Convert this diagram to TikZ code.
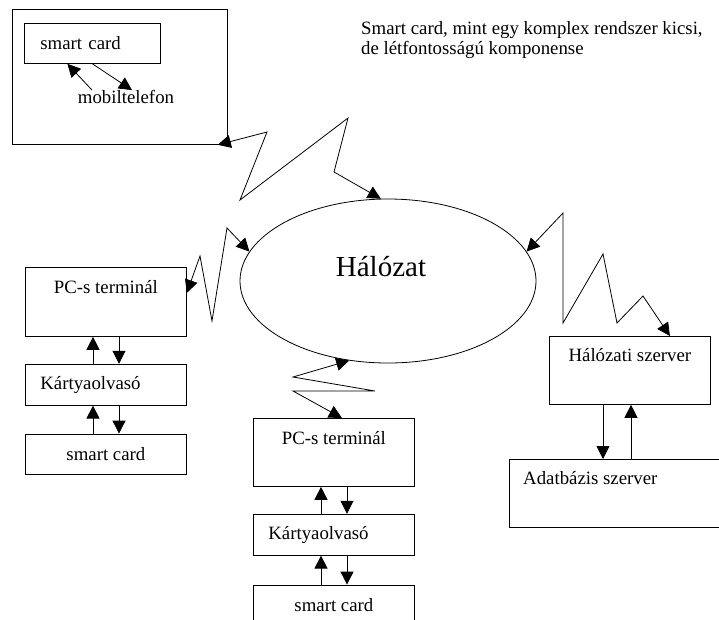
\documentclass[tikz,border=0pt]{standalone}
\usepackage{fontspec}
\setmainfont{Liberation Serif}
\usetikzlibrary{positioning,shapes.geometric,arrows.meta}

\newcommand\normtext{\fontsize{18.8}{20.5}\selectfont}
\newcommand\bigtext{\fontsize{29}{32}\selectfont}

\tikzset{
  box/.style={draw, line width=.8pt, minimum width=161pt, minimum height=41pt, inner sep=0pt, font=\normtext},
  bigbox/.style={box, minimum height=68pt, anchor=north west},
  txt/.style={inner sep=0pt, font=\normtext},
  link/.style={line width=.8pt, -{Triangle[length=13pt,width=13pt]}},
  wave/.style={line width=.8pt, {Triangle[length=13pt,width=13pt]}-{Triangle[length=13pt,width=13pt]}},
}

\begin{document}
\begin{tikzpicture}[x=1pt, y=-1pt]
		\clip (0,0) rectangle (719,619) ;
		% Phone
		\node[draw, line width=.8pt, minimum width=215pt, minimum height=135pt, anchor=north west] (phone) at (12,9) {} ;
		\node[box, minimum width=136pt, minimum height=40pt, text width=104pt, inner xsep=16pt, align=left, anchor=north west] (cardT) at (24,23) {smart card} ;
		\node[txt] (tel) at (126,97) {mobiltelefon} ;
		\node[txt, align=left, anchor=north west] (note) at (361,21) {Smart card, mint egy komplex rendszer kicsi,\\de létfontosságú komponense} ;
		% Network
		\node[draw, ellipse, line width=.8pt, minimum width=296pt, minimum height=164pt, inner sep=0pt] (net) at (388,281) {} ;
		\node[inner sep=0pt, font=\bigtext] (netTxt) at (381,267) {Hálózat} ;
		% Left
		\node[bigbox, minimum height=69pt] (pcL) at (25,267) {} ;
		\node[txt] (pcLtxt) at ([yshift=-20pt]pcL.north) {PC-s terminál} ;
		\node[box, below=27pt of pcL, text width=131pt, inner xsep=15pt, align=left] (olvL) {Kártyaolvasó} ;
		\node[box, below=28pt of olvL, minimum height=40pt] (cardL) {smart card} ;
		% Middle
		\node[bigbox] (pcM) at (253,418) {} ;
		\node[txt] (pcMtxt) at ([yshift=-20pt]pcM.north) {PC-s terminál} ;
		\node[box, below=27pt of pcM, text width=131pt, inner xsep=15pt, align=left] (olvM) {Kártyaolvasó} ;
		\node[box, below=29pt of olvM, minimum height=40pt] (cardM) {smart card} ;
		% Right
		\node[bigbox] (srv) at (549,336) {} ;
		\node[txt] (srvTxt) at ([yshift=-19pt]srv.north) {Hálózati szerver} ;
		\node[bigbox, minimum width=212pt] (db) at (509,459) {} ;
		\node[txt, anchor=west] (dbTxt) at (523,478) {Adatbázis szerver} ;
		% Arrows
		\draw[link] ([xshift=-34pt]tel.north) -- ([xshift=-25pt]cardT.south) ;
		\draw[link] (cardT.south) -- ([xshift=6pt]tel.north) ;
		\draw[link] ([xshift=68pt]olvL.north west) -- ([xshift=68pt]pcL.south west) ;
		\draw[link] ([xshift=94pt]pcL.south west) -- ([xshift=94pt]olvL.north west) ;
		\draw[link] ([xshift=68pt]cardL.north west) -- ([xshift=68pt]olvL.south west) ;
		\draw[link] ([xshift=94pt]olvL.south west) -- ([xshift=94pt]cardL.north west) ;
		\draw[link] ([xshift=68pt]olvM.north west) -- ([xshift=68pt]pcM.south west) ;
		\draw[link] ([xshift=94pt]pcM.south west) -- ([xshift=94pt]olvM.north west) ;
		\draw[link] ([xshift=68pt]cardM.north west) -- ([xshift=68pt]olvM.south west) ;
		\draw[link] ([xshift=94pt]olvM.south west) -- ([xshift=94pt]cardM.north west) ;
		\draw[link] ([xshift=54pt]srv.south west) -- ([xshift=94pt]db.north west) ;
		\draw[link] ([xshift=122pt]db.north west) -- ([xshift=82pt]srv.south west) ;
		% Radio links
		\draw[wave] ([xshift=-10pt]phone.south east) -- (267,132) -- (240,200) -- (348,118) -- (334,172) -- (net.95) ;
		\draw[wave] ([yshift=9pt]pcL.east) -- (200,256) -- (212,321) -- (227,228) -- (net.168) ;
		\draw[wave] (net.244) -- (293,377) -- (375,391) -- (293,391) -- ([xshift=8pt]pcM.north) ;
		\draw[wave] (net.12) -- (563,213) -- (563,323) -- (603,254) -- (617,323) -- (643,296) -- ([xshift=40pt]srv.north) ;
	\end{tikzpicture}
\end{document}
